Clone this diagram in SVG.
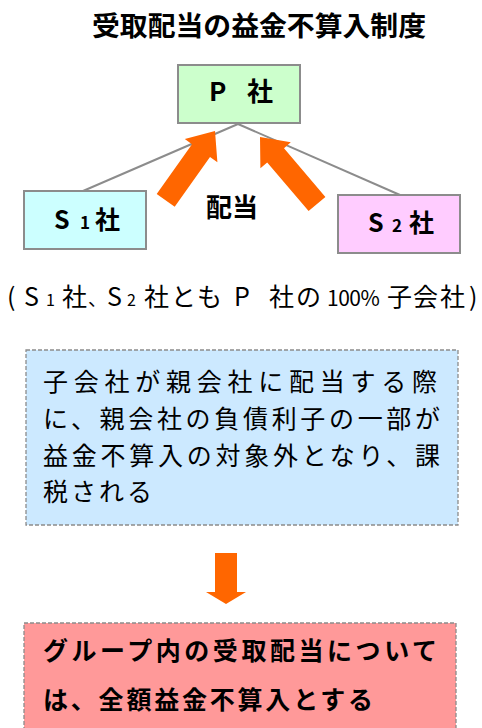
<svg xmlns="http://www.w3.org/2000/svg" width="482" height="728" viewBox="0 0 482 728">
<style>
text{font-family:"Noto Sans CJK JP","Noto Sans",sans-serif;fill:#000}
.b{font-weight:bold}
.box{stroke:#8c8c8c;stroke-width:2}
.dash{stroke:#8c8c8c;stroke-width:1.3;stroke-dasharray:4 2}
.ln{stroke:#8c8c8c;stroke-width:2;fill:none}
.or{fill:#ff6600}
</style>
<rect width="482" height="728" fill="#fff"/>
<text id="title" class="b" x="92" y="36" font-size="27" textLength="334" lengthAdjust="spacingAndGlyphs">受取配当の益金不算入制度</text>
<g id="connectors">
<line class="ln" x1="238" y1="124" x2="83" y2="191"/>
<line class="ln" x1="238" y1="124" x2="400" y2="195"/>
</g>
<g id="P">
<rect class="box" x="178" y="65" width="122" height="58" fill="#ccffcc"/>
<text class="b" font-size="26" y="101"><tspan x="209">P</tspan><tspan x="247">社</tspan></text>
</g>
<g id="S1">
<rect class="box" x="24" y="191" width="122" height="58" fill="#ccffff"/>
<text class="b" font-size="25" y="229"><tspan x="54">S</tspan><tspan x="80" font-size="17">1</tspan><tspan x="95">社</tspan></text>
</g>
<g id="S2">
<rect class="box" x="338" y="195" width="122" height="58" fill="#ffccff"/>
<text class="b" font-size="25" y="232"><tspan x="368">S</tspan><tspan x="392" font-size="17">2</tspan><tspan x="409">社</tspan></text>
</g>
<g id="arrows">
<polygon class="or" points="215,131 217.4,162.2 210,157 174.7,206.7 156.7,193.9 192,144.2 184.8,139"/>
<polygon class="or" points="260,137 290.8,142.3 284,148.2 325.4,196.9 308.6,211.1 267.2,162.4 260.4,168.3"/>
<polygon class="or" points="215,553 237,553 237,592 246,592 226,604 206,592 215,592"/>
</g>
<text id="haito" class="b" x="206" y="217" font-size="26">配当</text>
<g id="note">
<text font-size="25" y="306"><tspan x="7">(</tspan><tspan x="24">S</tspan><tspan x="46" font-size="16">1</tspan><tspan x="62">社</tspan><tspan x="88" font-size="19">、</tspan><tspan x="107">S</tspan><tspan x="127" font-size="16">2</tspan><tspan x="144">社</tspan><tspan x="171">と</tspan><tspan x="197">も</tspan><tspan x="234">P</tspan><tspan x="269">社</tspan><tspan x="296">の</tspan><tspan x="327" font-size="21" letter-spacing="-0.5">100%</tspan><tspan x="387">子</tspan><tspan x="413">会</tspan><tspan x="440">社</tspan><tspan x="469">)</tspan></text>
</g>
<g id="blue">
<rect class="dash" x="26" y="350" width="432" height="175" fill="#cce9ff"/>
<text font-size="25" x="43" y="391" textLength="394">子会社が親会社に配当する際</text>
<text font-size="25" x="43" y="428" textLength="397">に、親会社の負債利子の一部が</text>
<text font-size="25" x="43" y="465" textLength="397">益金不算入の対象外となり、課</text>
<text font-size="25" x="43" y="501" letter-spacing="3">税される</text>
</g>
<g id="red">
<rect class="dash" x="24" y="623" width="432" height="120" fill="#ff9999"/>
<text class="b" font-size="25" x="43" y="660" textLength="394">グループ内の受取配当について</text>
<text class="b" font-size="25" x="43" y="709" textLength="330">は、全額益金不算入とする</text>
</g>
</svg>
